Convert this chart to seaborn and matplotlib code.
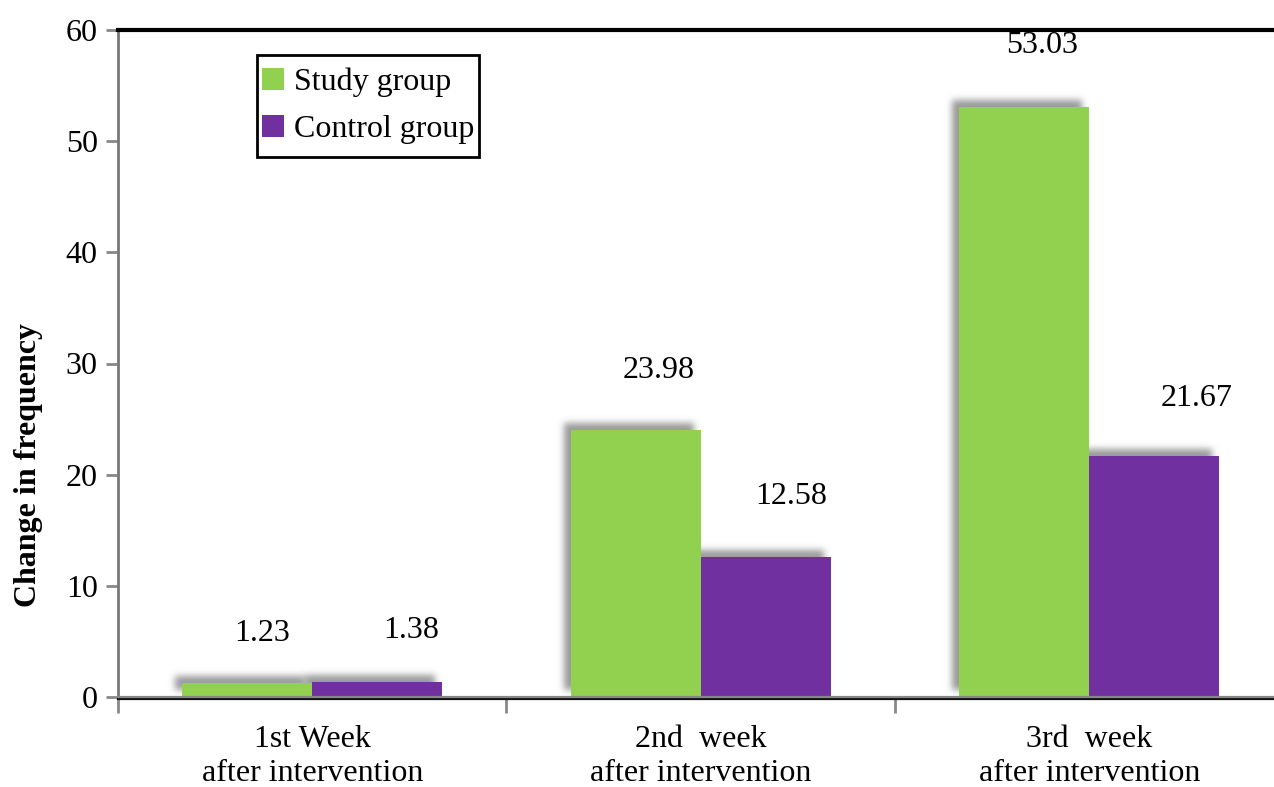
import numpy as np
import pandas as pd
import matplotlib
matplotlib.use("Agg")
import matplotlib.pyplot as plt
import matplotlib.transforms as mtransforms
from matplotlib.patches import Rectangle
from matplotlib.path import Path
import seaborn as sns

# ---- data -------------------------------------------------------------
weeks = ["1st Week\nafter intervention",
         "2nd  week\nafter intervention",
         "3rd  week\nafter intervention"]
groups = ["Study group", "Control group"]
study_values = [1.23, 23.98, 53.03]
control_values = [1.38, 12.58, 21.67]
group_colors = ["#92D050", "#7030A0"]

# label nudges (pixels) for each value label: (dx, dy above bar top)
study_label_offsets = [(15, 50), (23, 60), (18, 62)]
control_label_offsets = [(34, 51), (25, 61), (42, 58)]

df = pd.DataFrame({
    "week": weeks * 2,
    "group": [groups[0]] * 3 + [groups[1]] * 3,
    "value": study_values + control_values,
})

sns.set_theme(style="white")
plt.rcParams["font.family"] = ["Liberation Serif", "DejaVu Serif"]
plt.rcParams["text.color"] = "black"
plt.rcParams["xtick.color"] = "black"
plt.rcParams["ytick.color"] = "black"
plt.rcParams["axes.labelcolor"] = "black"

FS = 23
DPI = 100
fig = plt.figure(figsize=(12.74, 7.87), dpi=DPI)
ax = fig.add_axes([118 / 1274, 90 / 787, 1165.5 / 1274, 667 / 787])

sns.barplot(data=df, x="week", y="value", hue="group", order=weeks,
            hue_order=groups, palette=group_colors, saturation=1,
            width=0.67, gap=0, ax=ax, errorbar=None, zorder=3,
            linewidth=0)

ax.set_xlim(-0.5, 2.5)
ax.set_ylim(0, 60)
ax.set_yticks(np.arange(0, 61, 10))


# ---- soft drop shadow behind each bar ---------------------------------
def blurred_shadow(img, dpi, sigma=3.4, opacity=0.72, gray=0.45):
    pad = int(3 * sigma) + 2
    alpha = np.pad(img[:, :, 3], pad)
    r = int(3 * sigma)
    k = np.exp(-0.5 * (np.arange(-r, r + 1) / sigma) ** 2)
    k /= k.sum()
    alpha = np.apply_along_axis(lambda v: np.convolve(v, k, mode="same"), 0, alpha)
    alpha = np.apply_along_axis(lambda v: np.convolve(v, k, mode="same"), 1, alpha)
    out = np.empty(alpha.shape + (4,), dtype=float)
    out[:, :, :3] = gray
    out[:, :, 3] = alpha * opacity
    return out, -pad, -pad


shift = mtransforms.ScaledTranslation(-7 / DPI, 7 / DPI, fig.dpi_scale_trans)
bars = [p for p in ax.patches if isinstance(p, Rectangle) and p.get_height() > 0]
for bar in bars:
    sh = Rectangle((bar.get_x(), bar.get_y()), bar.get_width(), bar.get_height(),
                   transform=ax.transData + shift, facecolor="black",
                   edgecolor="none", zorder=2)
    sh.set_agg_filter(blurred_shadow)
    sh.set_rasterized(True)
    ax.add_patch(sh)

# ---- value labels -----------------------------------------------------
for i, (vals, offs) in enumerate([(study_values, study_label_offsets),
                                  (control_values, control_label_offsets)]):
    for j, (v, (dx, dy)) in enumerate(zip(vals, offs)):
        xc = j + (i - 0.5) * 0.335
        ax.annotate(f"{v:.2f}", xy=(xc, v), xytext=(dx * 0.72, dy * 0.72),
                    textcoords="offset points", ha="center", va="center",
                    fontsize=FS, color="black", zorder=5)

# ---- axes styling -----------------------------------------------------
for s in ["left", "top", "bottom"]:
    ax.spines[s].set_visible(True)
ax.spines["right"].set_visible(False)
ax.spines["left"].set_color("#777777")
ax.spines["left"].set_linewidth(2)
ax.spines["top"].set_color("black")
ax.spines["top"].set_linewidth(3)
ax.spines["bottom"].set_color("#111111")
ax.spines["bottom"].set_linewidth(1.6)
ax.spines["bottom"].set_position(("outward", 1.5))
ax.axhline(0, color="#888888", lw=1.6, zorder=4, clip_on=False)

ax.tick_params(axis="y", which="major", left=True, length=8.5, width=2,
               color="#888888", labelsize=FS, labelcolor="black", pad=6)
ax.tick_params(axis="x", which="major", length=0, labelsize=FS,
               labelcolor="black", pad=19)
ax.set_xticks([-0.5, 0.5, 1.5], minor=True)
ax.tick_params(axis="x", which="minor", bottom=True, length=10, width=2,
               color="#888888")
for lab in ax.get_xticklabels():
    lab.set_linespacing(1.2)

ax.set_xlabel("")
ax.set_ylabel("Change in frequency", fontsize=FS, fontweight="bold",
              color="black")
ax.yaxis.set_label_coords(-0.064, 0.348)

# ---- legend -----------------------------------------------------------
leg = ax.legend(loc="upper left", bbox_to_anchor=(0.1195 - 5 / 1165.5, 0.9625 - 3 / 667),
                borderaxespad=0, fontsize=FS, frameon=True, fancybox=False,
                handlelength=0.7, handleheight=0.7, handletextpad=0.3,
                labelspacing=0.56, borderpad=0.3)


def legend_frame(x0, y0, width, height, mutation_size):
    # narrower side margins, slightly taller top/bottom margins
    px = 5 * DPI / 100
    py = 3 * DPI / 100
    xa, xb = x0 + px, x0 + width - px
    ya, yb = y0 - py, y0 + height + py
    return Path([(xa, ya), (xb, ya), (xb, yb), (xa, yb), (xa, ya)], closed=True)


leg.legendPatch.set_boxstyle(legend_frame)
leg.get_frame().set_edgecolor("black")
leg.get_frame().set_linewidth(2)
leg.get_frame().set_alpha(1)
for t in leg.get_texts():
    t.set_color("black")

fig.savefig("out.png", dpi=DPI)
